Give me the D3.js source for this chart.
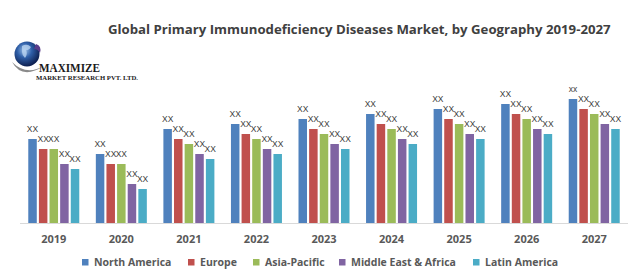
<!DOCTYPE html>
<html><head><meta charset="utf-8">
<script src="https://cdn.jsdelivr.net/npm/d3@7"></script>
<style>html,body{margin:0;padding:0;background:#fff;}svg{display:block;}</style>
</head><body>
<svg id="chart" width="630" height="279"></svg>
<script>
const years = ["2019","2020","2021","2022","2023","2024","2025","2026","2027"];
const seriesNames = ["North America","Europe","Asia-Pacific","Middle East & Africa","Latin America"];
const colors = ["#4F81BD","#C0504D","#9BBB59","#8064A2","#4BACC6"];
const northAmerica = [84, 69, 94, 99, 104, 109, 114, 119, 124];
const europe       = [74, 59, 84, 89, 94, 99, 104, 109, 114];
const asiaPacific  = [74, 59, 79, 84, 89, 94, 99, 104, 109];
const meAfrica     = [59, 39, 69, 74, 79, 84, 89, 94, 99];
const latinAmerica = [54, 34, 64, 69, 74, 79, 84, 89, 94];
const seriesValues = [northAmerica, europe, asiaPacific, meAfrica, latinAmerica];
const dataLabels = [
  ["XX","XX","XX","XX","XX","XX","XX","XX","xx"],
  ["XX","XX","XX","XX","XX","XX","XX","XX","XX"],
  ["XX","XX","XX","XX","XX","XX","XX","XX","XX"],
  ["XX","XX","XX","XX","XX","XX","XX","XX","XX"],
  ["XX","XX","XX","XX","XX","XX","XX","XX","XX"]
];
const title = "Global Primary Immunodeficiency Diseases Market, by Geography 2019-2027";

const svg = d3.select("#chart");
const baseY = 223;
const x0 = d3.scaleBand().domain(years).range([20, 628]).padding(0);
const x1 = d3.scaleBand().domain(seriesNames).range([-25.5, 25.5]).paddingInner(0.2);
const y = d3.scaleLinear().domain([0, 140]).range([baseY, baseY - 140]);

// title
const t = svg.append("text").attr("x", 108).attr("y", 33.5)
  .attr("font-family", "'Open Sans', sans-serif").attr("font-weight", "bold")
  .attr("font-size", 12.5).attr("fill", "#404040").text(title);
const tw = t.node().getComputedTextLength();
t.attr("font-size", 12.5 * 503 / tw);

// logo
const defs = svg.append("defs");
const g1 = defs.append("radialGradient").attr("id", "globe").attr("cx", "40%").attr("cy", "35%").attr("r", "65%");
g1.append("stop").attr("offset", "0%").attr("stop-color", "#9fc3ea");
g1.append("stop").attr("offset", "45%").attr("stop-color", "#2f5fa8");
g1.append("stop").attr("offset", "100%").attr("stop-color", "#0d1f4f");
const logo = svg.append("g");
logo.append("path").attr("d", "M12,62 Q22,80 44,66 Q26,76 12,62 Z").attr("fill", "#8a8a8a");
logo.append("circle").attr("cx", 27).attr("cy", 54).attr("r", 12.5).attr("fill", "url(#globe)");
logo.append("path").attr("d", "M22,46 q5,-3 9,1 q-2,4 -5,3 q2,4 -1,8 q-3,-3 -3,-6 z").attr("fill", "#b9d3f0").attr("opacity", 0.8);
logo.append("path").attr("d", "M36,44 q6,2 4,9 q-2,-4 -6,-4 z").attr("fill", "#5a3d8a");
logo.append("text").attr("x", 39).attr("y", 71.5).attr("font-family", "'Liberation Serif', serif")
  .attr("font-weight", "bold").attr("font-size", 11.5).attr("fill", "#1a1a1a")
  .attr("textLength", 61).attr("lengthAdjust", "spacingAndGlyphs").text("MAXIMIZE");
logo.append("text").attr("x", 36).attr("y", 80).attr("font-family", "'Liberation Serif', serif")
  .attr("font-weight", "bold").attr("font-size", 7).attr("fill", "#1a1a1a")
  .attr("textLength", 102).attr("lengthAdjust", "spacingAndGlyphs").text("MARKET RESEARCH PVT. LTD.");

// axis line
svg.append("line").attr("x1", 20).attr("x2", 628).attr("y1", baseY + 0.5).attr("y2", baseY + 0.5)
  .attr("stroke", "#d9d9d9").attr("stroke-width", 1);

// bars
const groups = svg.append("g").selectAll("g").data(years).join("g")
  .attr("transform", d => `translate(${x0(d) + x0.bandwidth() / 2},0)`);
groups.each(function(yr, i) {
  const g = d3.select(this);
  seriesNames.forEach((s, k) => {
    const v = seriesValues[k][i];
    g.append("rect").attr("x", x1(s)).attr("y", y(v)).attr("width", x1.bandwidth())
      .attr("height", baseY - y(v)).attr("fill", colors[k]);
  });
  seriesNames.forEach((s, k) => {
    const v = seriesValues[k][i];
    g.append("text").attr("x", x1(s) + x1.bandwidth() / 2).attr("y", y(v) - 7)
      .attr("text-anchor", "middle").attr("font-family", "'Liberation Sans', Arial, sans-serif")
      .attr("font-size", 8.5).attr("fill", "#404040").text(dataLabels[k][i]);
  });
});

// x axis labels
const xAxis = d3.axisBottom(x0).tickSize(0).tickPadding(0);
const ax = svg.append("g").attr("transform", `translate(0,${baseY})`).call(xAxis);
ax.select(".domain").remove();
ax.selectAll("text").attr("y", 20).attr("dy", 0)
  .attr("font-family", "'Open Sans', sans-serif").attr("font-weight", "bold")
  .attr("font-size", 11).attr("fill", "#595959");

// legend
const legendX = [82, 188, 253, 339, 473];
const leg = svg.append("g").selectAll("g").data(seriesNames).join("g")
  .attr("transform", (d, i) => `translate(${legendX[i]},259)`);
leg.append("rect").attr("width", 6.5).attr("height", 6.5).attr("fill", (d, i) => colors[i]);
leg.append("text").attr("x", 12).attr("y", 7).attr("font-family", "'Open Sans', sans-serif")
  .attr("font-weight", "bold").attr("font-size", 10.5).attr("fill", "#595959").text(d => d);
</script>
</body></html>
